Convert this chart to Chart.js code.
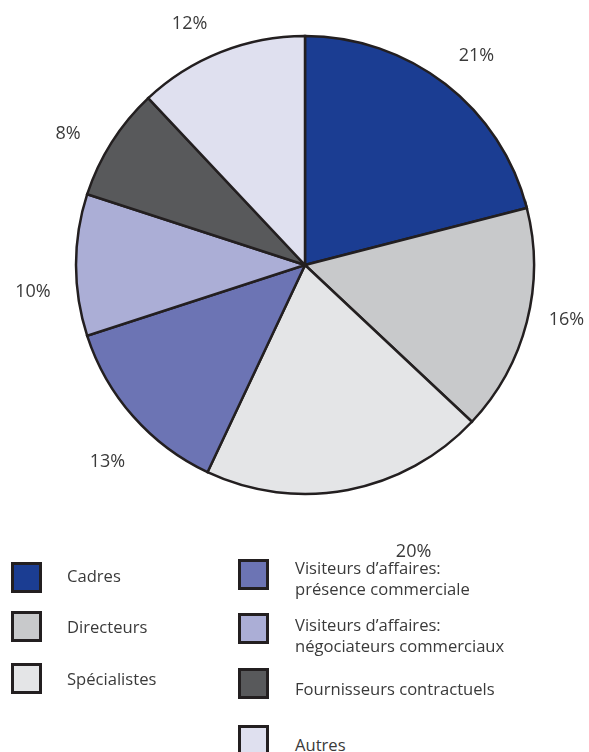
<!DOCTYPE html>
<html lang="fr">
<head>
<meta charset="UTF-8">
<title>Répartition</title>
<script src="https://cdn.jsdelivr.net/npm/chart.js"></script>
<style>
  body { margin: 0; background: #fff; }
  #wrap { position: relative; width: 589px; height: 752px; overflow: hidden; font-family: "Open Sans", sans-serif; color: #3a3a3a; }
  #pie { position: absolute; left: 0; top: 0; }
  .key { position: absolute; width: 31px; height: 31px; box-sizing: border-box; border: 3px solid #231f20; }
  .txt { position: absolute; font-size: 16.6px; line-height: 21px; white-space: nowrap; }
</style>
</head>
<body>
<div id="wrap">
  <canvas id="pie" width="589" height="570"></canvas>
</div>
<script>
// categories and their shares (%)
var categories = ['Cadres', 'Directeurs', 'Spécialistes',
  'Visiteurs d’affaires: présence commerciale',
  'Visiteurs d’affaires: négociateurs commerciaux',
  'Fournisseurs contractuels', 'Autres'];
var shares = [21, 16, 20, 13, 10, 8, 12];
var colors = ['#1b3d92', '#c8c9cb', '#e4e5e7', '#6c74b4', '#abaed6', '#58595b', '#dfe0ef'];

// small nudges for the percentage labels around the pie
var labelNudge = [[6, 4], [0, -12], [58, 22], [5, 18], [-2, 27], [-9, 14], [-16, 10]];

// legend boxes: [left, top] of the square, [left, top] of the text
var keyPos = [
  [11, 562, 67, 565], [11, 611, 67, 616], [11, 663, 67, 668],
  [238, 559, 295, 557], [238, 613, 295, 614], [238, 668, 295, 678], [238, 725, 295, 734]
];

var pctLabels = {
  id: 'pctLabels',
  afterDatasetsDraw: function (chart) {
    var ctx = chart.ctx;
    var arcs = chart.getDatasetMeta(0).data;
    ctx.save();
    ctx.font = '18px "Open Sans", sans-serif';
    ctx.fillStyle = '#3a3a3a';
    ctx.textAlign = 'center';
    ctx.textBaseline = 'middle';
    arcs.forEach(function (arc, i) {
      var mid = (arc.startAngle + arc.endAngle) / 2;
      var r = arc.outerRadius + 41;
      var x = arc.x + Math.cos(mid) * r + labelNudge[i][0];
      var y = arc.y + Math.sin(mid) * r + labelNudge[i][1];
      ctx.fillText(shares[i] + '%', x, y);
    });
    ctx.restore();
  }
};

new Chart(document.getElementById('pie').getContext('2d'), {
  type: 'pie',
  data: {
    labels: categories,
    datasets: [{
      data: shares,
      backgroundColor: colors,
      borderColor: '#231f20',
      borderWidth: 2.5,
      borderJoinStyle: 'miter'
    }]
  },
  options: {
    responsive: false,
    animation: false,
    radius: 229,
    layout: { padding: { left: 21, bottom: 40 } },
    plugins: { legend: { display: false }, tooltip: { enabled: false } }
  },
  plugins: [pctLabels]
});

// legend under the pie
var wrap = document.getElementById('wrap');
categories.forEach(function (name, i) {
  var box = document.createElement('div');
  box.className = 'key';
  box.style.left = keyPos[i][0] + 'px';
  box.style.top = keyPos[i][1] + 'px';
  box.style.background = colors[i];
  wrap.appendChild(box);

  var t = document.createElement('div');
  t.className = 'txt';
  t.style.left = keyPos[i][2] + 'px';
  t.style.top = keyPos[i][3] + 'px';
  t.innerHTML = name.replace(': ', ':<br>');
  wrap.appendChild(t);
});
</script>
</body>
</html>
